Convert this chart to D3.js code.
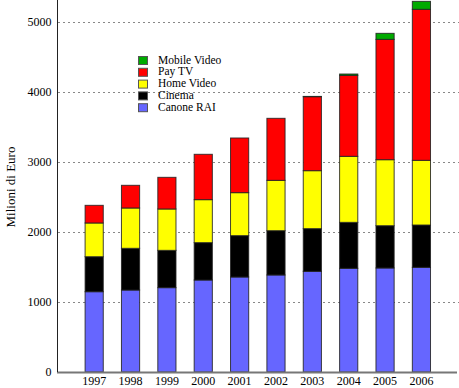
<!DOCTYPE html>
<html>
<head>
<meta charset="utf-8">
<script src="https://cdn.jsdelivr.net/npm/d3@7"></script>
<style>
  html, body { margin: 0; padding: 0; background: #fff; }
  svg { display: block; }
</style>
</head>
<body>
<svg id="chart" width="459" height="388"></svg>
<script>
const years = ["1997","1998","1999","2000","2001","2002","2003","2004","2005","2006"];
const canoneRai   = [1147,1171,1205,1314,1357,1386,1438,1481,1486,1495];
const cinema      = [500,596,533,534,591,633,610,657,604,605];
const homeVideo   = [482,576,591,614,614,719,828,943,943,924];
const payTv       = [252,324,452,648,781,886,1057,1157,1719,2157];
const mobileVideo = [0,0,0,0,0,0,4,19,86,114];
const seriesNames = ["Canone RAI","Cinema","Home Video","Pay TV","Mobile Video"];
const seriesColors = ["#6666ff","#000000","#ffff00","#ff0000","#00aa00"];
const yTicks = [0,1000,2000,3000,4000,5000];

const FONT = "'Liberation Serif', 'Times New Roman', Times, serif";

const seriesValues = [canoneRai, cinema, homeVideo, payTv, mobileVideo];
const rows = years.map((y,i) => {
  const r = {year: y};
  seriesNames.forEach((n,k) => r[n] = seriesValues[k][i]);
  return r;
});
const stack = d3.stack().keys(seriesNames)(rows);

const svg = d3.select("#chart");
const x = d3.scaleBand().domain(years).range([76, 439.6]).paddingInner(0.5).paddingOuter(0.25);
const y = d3.scaleLinear().domain([0, 5000]).range([372, 22]);

// gridlines
svg.append("g").selectAll("line").data(yTicks.filter(t => t > 0)).join("line")
  .attr("x1", 58).attr("x2", 459)
  .attr("y1", d => Math.round(y(d)) + 0.5).attr("y2", d => Math.round(y(d)) + 0.5)
  .attr("stroke", "#888").attr("stroke-width", 1).attr("stroke-dasharray", "2,3");

// bars
const color = d3.scaleOrdinal().domain(seriesNames).range(seriesColors);
svg.append("g").selectAll("g").data(stack).join("g")
  .attr("fill", d => color(d.key))
  .selectAll("rect").data(d => d.filter(p => p[1] - p[0] > 0)).join("rect")
  .attr("x", d => x(d.data.year))
  .attr("width", x.bandwidth())
  .attr("y", d => y(d[1]))
  .attr("height", d => y(d[0]) - y(d[1]))
  .attr("stroke", "#222").attr("stroke-opacity", 0.85).attr("stroke-width", 1);

// baseline
svg.append("line").attr("x1", 57).attr("x2", 457)
  .attr("y1", y(0) + 0.5).attr("y2", y(0) + 0.5)
  .attr("stroke", "#777").attr("stroke-width", 2);

// left axis
const yAxis = d3.axisLeft(y).tickValues(yTicks).tickSize(0).tickPadding(6).tickFormat(d3.format("d"));
const ga = svg.append("g").attr("transform", "translate(57.5,0)").call(yAxis);
ga.attr("font-family", null).attr("font-size", null);
ga.select(".domain").remove();
ga.selectAll("text").attr("font-size", 12).attr("font-family", FONT);
svg.append("line").attr("x1", 57.5).attr("x2", 57.5).attr("y1", 0).attr("y2", 372)
  .attr("stroke", "#222").attr("stroke-width", 1);

// x axis labels
const xAxis = d3.axisBottom(x).tickSize(0).tickPadding(4);
const gx = svg.append("g").attr("transform", `translate(0,${y(0)})`).call(xAxis);
gx.attr("font-family", null).attr("font-size", null);
gx.select(".domain").remove();
gx.selectAll("text").attr("font-size", 12).attr("font-family", FONT);

// y label
svg.append("text")
  .attr("transform", "translate(15,187) rotate(-90)")
  .attr("text-anchor", "middle")
  .attr("font-family", FONT)
  .attr("font-size", 13)
  .text("Milioni di Euro");

// legend
const legendOrder = ["Mobile Video","Pay TV","Home Video","Cinema","Canone RAI"];
const lg = svg.append("g").selectAll("g").data(legendOrder).join("g")
  .attr("transform", (d,i) => `translate(138,${56 + i*11.8})`);
lg.append("rect").attr("x", 0.5).attr("y", 0.5).attr("width", 9).attr("height", 8)
  .attr("fill", d => color(d)).attr("stroke", "#555").attr("stroke-width", 1);
lg.append("text").attr("x", 20).attr("y", 7.5).attr("font-size", 11.5)
  .attr("font-family", FONT).text(d => d);
</script>
</body>
</html>
